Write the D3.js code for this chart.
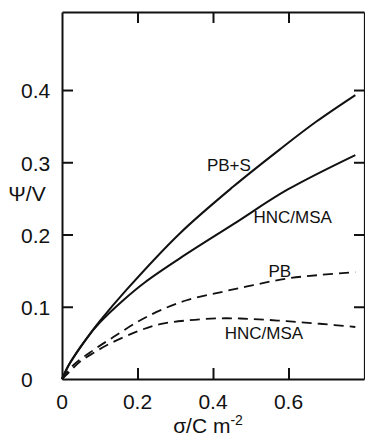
<!DOCTYPE html>
<meta charset="utf-8">
<style>
  body { margin: 0; background: #fff; }
  svg text { font-family: "Liberation Sans", Arial, sans-serif; fill: #111; }
  .axis path, .axis line { stroke: #111; stroke-width: 2px; fill: none; }
  .axis text { display: none; }
  .tlabel { font-size: 21px; }
  .clabel { font-size: 17px; }
  .curve { fill: none; stroke: #111; stroke-width: 2px; }
  .dashed { stroke-dasharray: 10 6; stroke-width: 1.8px; }
</style>
<body>
<div id="chart"></div>
<script src="https://cdnjs.cloudflare.com/ajax/libs/d3/7.8.5/d3.min.js"></script>
<script>
// values (sigma in C m^-2, psi in V)
var pbsX  = [0, 0.021, 0.065, 0.1, 0.17, 0.312, 0.453, 0.58, 0.673, 0.777];
var pbsY  = [0, 0.022, 0.056, 0.08, 0.123, 0.2015, 0.266, 0.319, 0.356, 0.393];

var hncX  = [0, 0.021, 0.065, 0.1, 0.16, 0.22, 0.312, 0.453, 0.597, 0.777];
var hncY  = [0, 0.022, 0.056, 0.078, 0.108, 0.134, 0.167, 0.214, 0.262, 0.310];

var pbX   = [0, 0.03, 0.083, 0.136, 0.2, 0.26, 0.33, 0.419, 0.507, 0.595, 0.683, 0.777];
var pbY   = [0, 0.019, 0.04, 0.058, 0.079, 0.095, 0.109, 0.120, 0.130, 0.139, 0.144, 0.148];

var hncdX = [0, 0.02, 0.048, 0.083, 0.127, 0.2, 0.26, 0.33, 0.419, 0.507, 0.595, 0.683, 0.777];
var hncdY = [0, 0.01, 0.024, 0.036, 0.049, 0.066, 0.076, 0.081, 0.084, 0.083, 0.080, 0.0765, 0.072];

var xTicks = [0, 0.2, 0.4, 0.6];
var yTicks = [0, 0.1, 0.2, 0.3, 0.4];

// curve labels: text, x, y (data units, baseline)
var labelText = ["PB+S", "HNC/MSA", "PB", "HNC/MSA"];
var labelX    = [0.442, 0.611, 0.577, 0.535];
var labelY    = [0.288, 0.216, 0.141, 0.0547];

var W = 365, H = 442;
var plotL = 62, plotR = 364, plotT = 12, plotB = 379;

var svg = d3.select("#chart").append("svg")
  .attr("width", W)
  .attr("height", H);

var x = d3.scaleLinear().domain([0, 0.8]).range([plotL, plotR]);
var y = d3.scaleLinear().domain([0, 0.508]).range([plotB, plotT]);

// frame with inward ticks
svg.append("g").attr("class", "axis")
  .attr("transform", "translate(" + plotL + ",0)")
  .call(d3.axisRight(y).tickValues([0.1, 0.2, 0.3, 0.4]).tickSize(11).tickSizeOuter(0));

svg.append("g").attr("class", "axis")
  .attr("transform", "translate(" + plotR + ",0)")
  .call(d3.axisLeft(y).tickValues([0.1, 0.2, 0.3, 0.4]).tickSize(10).tickSizeOuter(0))
  .select(".domain").style("stroke-width", "1.2px");

svg.append("g").attr("class", "axis")
  .attr("transform", "translate(0," + plotB + ")")
  .call(d3.axisTop(x).tickValues([0.2, 0.4, 0.6]).tickSize(11).tickSizeOuter(0));

svg.append("g").attr("class", "axis")
  .attr("transform", "translate(0," + plotT + ")")
  .call(d3.axisBottom(x).tickValues([0.2, 0.4, 0.6]).tickSize(11).tickSizeOuter(0));

// tick labels
svg.selectAll(".ylab")
  .data(yTicks)
  .enter().append("text")
  .attr("class", "tlabel")
  .attr("x", 21)
  .attr("y", function(d) { return y(d); })
  .attr("dy", "0.4em")
  .text(function(d) { return d === 0 ? "0" : d3.format(".1f")(d); });

svg.selectAll(".xlab")
  .data(xTicks)
  .enter().append("text")
  .attr("class", "tlabel")
  .attr("x", function(d) { return x(d); })
  .attr("y", 409)
  .attr("text-anchor", "middle")
  .text(function(d) { return d === 0 ? "0" : d3.format(".1f")(d); });

// axis titles
svg.append("text")
  .attr("class", "tlabel")
  .attr("x", 27)
  .attr("y", 201)
  .attr("text-anchor", "middle")
  .text("\u03A8/V");

var xt = svg.append("text")
  .attr("class", "tlabel")
  .attr("x", 208)
  .attr("y", 433)
  .attr("text-anchor", "middle");
xt.append("tspan").text("\u03C3/C m");
xt.append("tspan").attr("dy", -8).style("font-size", "14px").text("-2");

// curves
var line = d3.line()
  .x(function(d) { return x(d[0]); })
  .y(function(d) { return y(d[1]); })
  .curve(d3.curveCatmullRom.alpha(0.5));

var series = [
  { xs: pbsX, ys: pbsY, dashed: false },
  { xs: hncX, ys: hncY, dashed: false },
  { xs: pbX, ys: pbY, dashed: true },
  { xs: hncdX, ys: hncdY, dashed: true }
];

series.forEach(function(s) {
  var pts = s.xs.map(function(v, i) { return [v, s.ys[i]]; });
  svg.append("path")
    .datum(pts)
    .attr("class", s.dashed ? "curve dashed" : "curve")
    .attr("d", line);
});

svg.selectAll(".clabel")
  .data(labelText)
  .enter().append("text")
  .attr("class", "clabel")
  .attr("x", function(d, i) { return x(labelX[i]); })
  .attr("y", function(d, i) { return y(labelY[i]); })
  .attr("text-anchor", "middle")
  .text(function(d) { return d; });
</script>
</body>
